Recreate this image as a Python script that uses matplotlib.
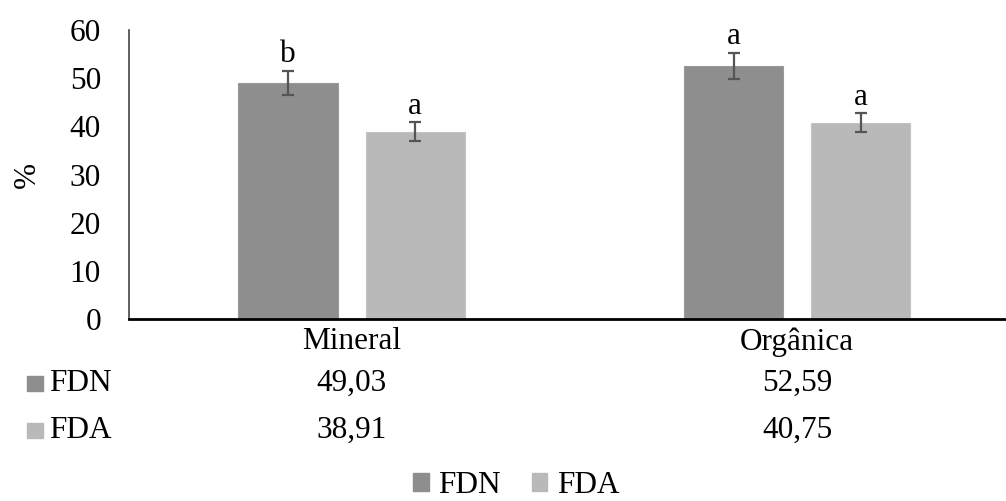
import matplotlib.pyplot as plt
import matplotlib.patches as mpatches
import matplotlib.transforms as mtransforms
import numpy as np

plt.rcParams['font.family'] = ['Liberation Serif', 'DejaVu Serif']
plt.rcParams['font.size'] = 22.5

grupos = ['Mineral', 'Orgânica']
fdn = [49.03, 52.59]
fda = [38.91, 40.75]
fdn_err = [2.5, 2.7]
fda_err = [2.0, 2.0]
fdn_letras = ['b', 'a']
fda_letras = ['a', 'a']
rotulos_tab = ['49,03', '52,59', '38,91', '40,75']

cor_fdn = '#8e8e8e'
cor_fda = '#b9b9b9'
cor_err = '#555555'

fig = plt.figure(figsize=(10.06, 5.01), dpi=100)
ax = fig.add_axes([0.128, 0.363, 0.886, 0.577])

x = np.arange(len(grupos))
w = 0.2225
off = 0.1427

ax.bar(x - off, fdn, w, color=cor_fdn, edgecolor='#9a9a9a', linewidth=0.8, label='FDN')
ax.bar(x + off, fda, w, color=cor_fda, edgecolor='#c4c4c4', linewidth=0.8, label='FDA')
ax.errorbar(x - off, fdn, yerr=fdn_err, fmt='none', ecolor=cor_err, elinewidth=1.6, capsize=4.5, capthick=1.6)
ax.errorbar(x + off, fda, yerr=fda_err, fmt='none', ecolor=cor_err, elinewidth=1.6, capsize=4.5, capthick=1.6)

for i in range(len(grupos)):
    ax.annotate(fdn_letras[i], (x[i] - off, fdn[i] + fdn_err[i]), xytext=(0, 1),
                textcoords='offset points', ha='center', va='bottom')
    ax.annotate(fda_letras[i], (x[i] + off, fda[i] + fda_err[i]), xytext=(0, 1),
                textcoords='offset points', ha='center', va='bottom')

ax.set_xlim(-0.5, 1.5)
ax.set_ylim(0, 60)
ax.set_yticks(range(0, 61, 10))
ax.set_xticks(x)
ax.set_xticklabels(grupos)
ax.tick_params(axis='y', length=0, pad=20)
ax.tick_params(axis='x', length=0, pad=6)
ax.spines['top'].set_visible(False)
ax.spines['right'].set_visible(False)
ax.spines['left'].set_color('#444444')
ax.spines['left'].set_linewidth(1.2)
ax.spines['bottom'].set_linewidth(2.0)
ax.set_ylabel('%', labelpad=20)

# tabela de dados abaixo do eixo
trans = mtransforms.blended_transform_factory(ax.transData, ax.transAxes)
linhas_y = [-0.222, -0.385]
for j, (serie, cor, nome) in enumerate([(fdn, cor_fdn, 'FDN'), (fda, cor_fda, 'FDA')]):
    for i in range(len(grupos)):
        ax.text(x[i], linhas_y[j], rotulos_tab[j * 2 + i], transform=trans,
                ha='center', va='center', clip_on=False)
    yf = ax.transAxes.transform((0, linhas_y[j]))[1] / fig.bbox.height
    fig.patches.append(mpatches.Rectangle((0.027, yf - 0.016), 0.016, 0.03, color=cor,
                                          transform=fig.transFigure))
    fig.text(0.049, yf, nome, ha='left', va='center')

handles = [mpatches.Patch(color=cor_fdn, label='FDN'), mpatches.Patch(color=cor_fda, label='FDA')]
fig.legend(handles=handles, loc='center', bbox_to_anchor=(0.513, 0.03), ncol=2,
           frameon=False, handlelength=0.5, handleheight=0.5, handletextpad=0.3,
           columnspacing=1.0, borderpad=0)

fig.savefig('out.png', dpi=100)
